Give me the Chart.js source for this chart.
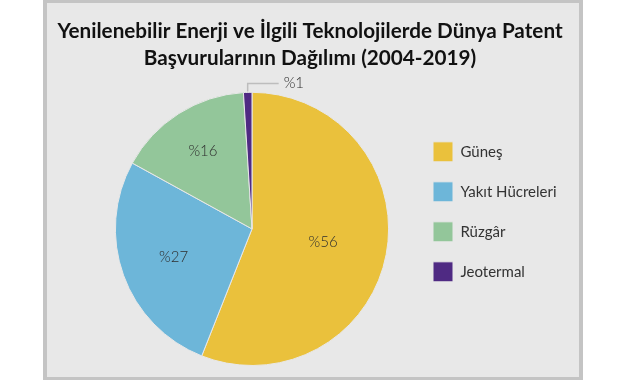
<!DOCTYPE html>
<html>
<head>
<meta charset="utf-8">
<script src="https://cdn.jsdelivr.net/npm/chart.js@4.4.1/dist/chart.umd.min.js"></script>
<style>
  html, body { margin: 0; padding: 0; background: #ffffff; }
  #wrap { width: 641px; height: 380px; position: relative; }
</style>
</head>
<body>
<div id="wrap"><canvas id="chart" width="641" height="380"></canvas></div>
<script>
// ---- data ----
const titleLines = ['Yenilenebilir Enerji ve İlgili Teknolojilerde Dünya Patent', 'Başvurularının Dağılımı (2004-2019)'];
const categories = ['Güneş', 'Yakıt Hücreleri', 'Rüzgâr', 'Jeotermal'];
const shares = [56, 27, 16, 1];
const valuePrefix = '%';

// ---- styles ----
const sliceColors = ['#EAC13C', '#6DB6D9', '#93C69A', '#4F2A83'];
const labelRadiusFactor = [0.53, 0.61, 0.67];
const FONT = "Lato, 'Open Sans', 'Noto Sans', sans-serif";
const LEGEND_SLOT = 164;   // space from legend's left edge to the panel's inner right padding

// background frame (outer white, grey border, light grey panel)
const framePlugin = {
  id: 'frame',
  beforeDraw(chart) {
    const ctx = chart.ctx;
    ctx.save();
    ctx.fillStyle = '#ffffff';
    ctx.fillRect(0, 0, chart.width, chart.height);
    ctx.fillStyle = '#c4c4c4';
    ctx.fillRect(43, 0, 540, 380);
    ctx.fillStyle = '#e8e8e8';
    ctx.fillRect(47, 3, 532, 374);
    ctx.restore();
  }
};

// invisible layout boxes that shift the pie area (library layout system)
function makeSpacer(chart, position, sizeFn, weight) {
  return {
    position, weight, fullSize: false, options: { display: false },
    width: 0, height: 0, left: 0, top: 0, right: 0, bottom: 0,
    isHorizontal() { return false; },
    update(maxW, maxH) { this.width = sizeFn(chart); this.height = maxH; },
    draw() {}
  };
}
const spacerPlugin = {
  id: 'spacers',
  beforeInit(chart) {
    Chart.layouts.addBox(chart, makeSpacer(chart, 'left', () => 48, 0));
    Chart.layouts.addBox(chart, makeSpacer(chart, 'right',
      c => Math.max(0, LEGEND_SLOT - (c.legend ? c.legend.width : 0)), 3000));
  }
};

// percentage labels on / beside the slices
const sliceLabelPlugin = {
  id: 'sliceLabels',
  afterDatasetsDraw(chart) {
    const ctx = chart.ctx;
    const meta = chart.getDatasetMeta(0);
    const values = chart.data.datasets[0].data;
    ctx.save();
    ctx.font = "300 15px " + FONT;
    ctx.fillStyle = '#2e2e2e';
    ctx.textBaseline = 'middle';
    meta.data.forEach((arc, i) => {
      const p = arc.getProps(['x', 'y', 'startAngle', 'endAngle', 'outerRadius'], true);
      const mid = (p.startAngle + p.endAngle) / 2;
      const text = valuePrefix + values[i];
      if (i < labelRadiusFactor.length) {
        const r = p.outerRadius * labelRadiusFactor[i];
        ctx.textAlign = 'center';
        ctx.fillText(text, p.x + Math.cos(mid) * r, p.y + Math.sin(mid) * r);
      } else {
        const ax = p.x + Math.cos(mid) * (p.outerRadius + 1);
        const ay = p.y + Math.sin(mid) * (p.outerRadius + 1);
        const ly = ay - 8;
        ctx.strokeStyle = '#bdbdbd';
        ctx.lineWidth = 1.5;
        ctx.beginPath();
        ctx.moveTo(ax, ay);
        ctx.lineTo(ax, ly);
        ctx.lineTo(ax + 31, ly);
        ctx.stroke();
        ctx.textAlign = 'left';
        ctx.fillText(text, ax + 36, ly);
      }
    });
    ctx.restore();
  }
};

new Chart(document.getElementById('chart'), {
  type: 'pie',
  data: {
    labels: categories,
    datasets: [{
      data: shares,
      backgroundColor: sliceColors,
      borderColor: '#e8e8e8',
      borderWidth: 1
    }]
  },
  options: {
    responsive: false,
    animation: false,
    devicePixelRatio: 1,
    layout: { padding: { left: 43, right: 64, top: 0, bottom: 14 } },
    plugins: {
      title: {
        display: true,
        text: titleLines,
        color: '#111111',
        font: { family: FONT, size: 20.7, weight: 'bold', lineHeight: 1.3 },
        padding: { top: 18, bottom: 20 }
      },
      legend: {
        position: 'right',
        align: 'start',
        fullSize: false,
        title: { display: true, text: '', font: { size: 10, lineHeight: 1 }, padding: { top: 10, bottom: 10 } },
        labels: {
          boxWidth: 20,
          boxHeight: 20,
          padding: 20,
          color: '#333333',
          font: { family: FONT, size: 15 }
        }
      },
      tooltip: { enabled: false }
    }
  },
  plugins: [framePlugin, spacerPlugin, sliceLabelPlugin]
});
</script>
</body>
</html>
